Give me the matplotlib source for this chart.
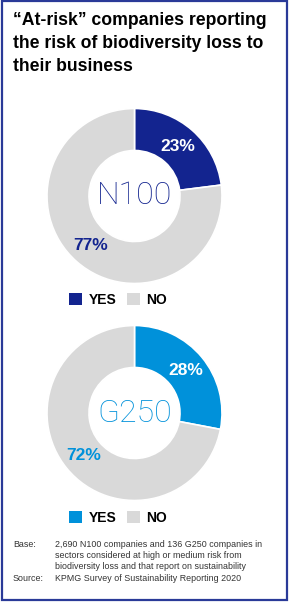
import matplotlib
matplotlib.use("Agg")
import matplotlib.pyplot as plt
from matplotlib.patches import Rectangle

W, H = 292, 604

title = "\u201cAt-risk\u201d companies reporting\nthe risk of biodiversity loss to\ntheir business"
groups = ["N100", "G250"]
yes_values = [23, 28]
no_values = [77, 72]
legend_labels = ["YES", "NO"]
base_label = "Base:"
base_text = ("2,690 N100 companies and 136 G250 companies in\n"
             "sectors considered at high or medium risk from\n"
             "biodiversity loss and that report on sustainability")
source_label = "Source:"
source_text = "KPMG Survey of Sustainability Reporting 2020"

yes_colors = ["#13248f", "#0091da"]
no_color = "#d9d9d9"
border_color = "#2a3a98"

plt.rcParams['font.family'] = ['Liberation Sans', 'DejaVu Sans']

fig = plt.figure(figsize=(W / 100, H / 100), dpi=100)
fig.patch.set_facecolor("white")


def px(x, y):
    # pixel coords (top-left origin) -> figure fraction
    return x / W, 1 - y / H


# border
fig.add_artist(Rectangle(px(2, 600), 285 / W, 599 / H, transform=fig.transFigure,
                         fill=False, edgecolor=border_color, linewidth=1.6))

fig.text(*px(13, 12), title, fontsize=12.7, fontweight="bold", color="black",
         va="top", ha="left", linespacing=1.45)

R = 87.5
centers = [(134.5, 196), (134.5, 413)]
legend_y = [299.5, 518]

for i, grp in enumerate(groups):
    cx, cy = centers[i]
    l, b = px(cx - R, cy + R)
    ax = fig.add_axes([l, b, 2 * R / W, 2 * R / H])
    wedges, texts, autotexts = ax.pie(
        [yes_values[i], no_values[i]], colors=[yes_colors[i], no_color],
        startangle=90, counterclock=False, radius=1,
        wedgeprops=dict(width=0.48, edgecolor="white", linewidth=1.2),
        autopct=lambda p: f"{p:.0f}%", pctdistance=0.755)
    ax.set_xlim(-1, 1)
    ax.set_ylim(-1, 1)
    ax.set_aspect("equal")
    ax.axis("off")
    autotexts[0].set_color("white")
    autotexts[1].set_color(yes_colors[i])
    for t in autotexts:
        t.set_fontsize(12.5)
        t.set_fontweight("bold")
    ax.text(0, 0.0, grp, ha="center", va="center", fontsize=23,
            fontweight="light", family="Roboto", color=yes_colors[i])

    leg = fig.legend(wedges, legend_labels, loc="center left",
                     bbox_to_anchor=px(69, legend_y[i]), ncol=2, frameon=False,
                     handlelength=0.95, handleheight=0.95, handletextpad=0.45,
                     columnspacing=0.75, borderpad=0, borderaxespad=0,
                     prop=dict(weight="bold", size=10))
    for h in leg.legend_handles:
        h.set_edgecolor("none")

foot = dict(fontsize=6.4, color="#333333", va="top", ha="left", linespacing=1.28)
fig.text(*px(13, 540), base_label, **foot)
fig.text(*px(55, 540), base_text, **foot)
fig.text(*px(13, 574), source_label, **foot)
fig.text(*px(55, 574), source_text, **foot)

fig.savefig("out.png", dpi=100, facecolor="white")
